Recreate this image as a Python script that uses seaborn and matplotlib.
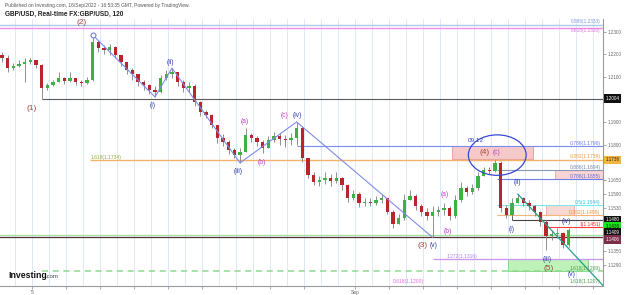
import numpy as np
import pandas as pd
import matplotlib
matplotlib.use("Agg")
import matplotlib.pyplot as plt
import matplotlib.transforms as mtransforms
from matplotlib.patches import Rectangle, Ellipse
from matplotlib.ticker import FixedLocator, NullLocator, FixedFormatter
import seaborn as sns

# ---------------- data (GBP/USD, 8h bars) ----------------
first_open = 1.2198
close = [1.2184, 1.2139, 1.2148, 1.2157, 1.2166, 1.2175, 1.2153, 1.2051, 1.2064, 1.2077,
         1.2095, 1.2082, 1.2095, 1.2077, 1.2073, 1.2086, 1.2256, 1.2229, 1.2220, 1.2234,
         1.2198, 1.2166, 1.2130, 1.2113, 1.2077, 1.2064, 1.2042, 1.2033, 1.2095, 1.2113,
         1.2122, 1.2077, 1.2051, 1.2060, 1.1989, 1.1945, 1.1931, 1.1888, 1.1831, 1.1814,
         1.1779, 1.1757, 1.1770, 1.1844, 1.1831, 1.1814, 1.1788, 1.1822, 1.1840, 1.1827,
         1.1822, 1.1831, 1.1874, 1.1744, 1.1671, 1.1641, 1.1650, 1.1658, 1.1645, 1.1658,
         1.1628, 1.1573, 1.1590, 1.1552, 1.1556, 1.1552, 1.1564, 1.1573, 1.1513, 1.1462,
         1.1488, 1.1564, 1.1581, 1.1539, 1.1513, 1.1496, 1.1513, 1.1522, 1.1530, 1.1496,
         1.1564, 1.1615, 1.1598, 1.1615, 1.1667, 1.1693, 1.1688, 1.1723, 1.1530, 1.1500,
         1.1552, 1.1573, 1.1552, 1.1539, 1.1513, 1.1471, 1.1412, 1.1420, 1.1425, 1.1374,
         1.1436]
high = [1.2211, 1.2198, 1.2162, 1.2175, 1.2184, 1.2184, 1.2175, 1.2157, 1.2073, 1.2086,
        1.2122, 1.2099, 1.2122, 1.2095, 1.2086, 1.2099, 1.2288, 1.2265, 1.2243, 1.2247,
        1.2238, 1.2198, 1.2166, 1.2139, 1.2113, 1.2086, 1.2068, 1.2060, 1.2108, 1.2130,
        1.2139, 1.2122, 1.2086, 1.2077, 1.2068, 1.1992, 1.1953, 1.1936, 1.1888, 1.1849,
        1.1822, 1.1788, 1.1788, 1.1874, 1.1853, 1.1840, 1.1822, 1.1840, 1.1857, 1.1853,
        1.1844, 1.1853, 1.1901, 1.1883, 1.1744, 1.1684, 1.1667, 1.1684, 1.1675, 1.1684,
        1.1663, 1.1632, 1.1607, 1.1598, 1.1573, 1.1573, 1.1581, 1.1590, 1.1573, 1.1522,
        1.1505, 1.1590, 1.1607, 1.1590, 1.1547, 1.1530, 1.1539, 1.1539, 1.1552, 1.1539,
        1.1586, 1.1641, 1.1624, 1.1632, 1.1684, 1.1705, 1.1705, 1.1736, 1.1731, 1.1543,
        1.1573, 1.1590, 1.1577, 1.1564, 1.1543, 1.1517, 1.1479, 1.1437, 1.1446, 1.1429,
        1.1446]
low = [1.2166, 1.2122, 1.2130, 1.2144, 1.2077, 1.2157, 1.2139, 1.2004, 1.2042, 1.2060,
       1.2077, 1.2068, 1.2077, 1.2064, 1.2060, 1.2068, 1.2082, 1.2211, 1.2202, 1.2198,
       1.2184, 1.2148, 1.2113, 1.2086, 1.2060, 1.2042, 1.2024, 1.2011, 1.2028, 1.2086,
       1.2095, 1.2060, 1.2033, 1.2033, 1.1971, 1.1927, 1.1918, 1.1874, 1.1809, 1.1796,
       1.1762, 1.1744, 1.1723, 1.1770, 1.1814, 1.1796, 1.1766, 1.1788, 1.1814, 1.1801,
       1.1792, 1.1801, 1.1801, 1.1727, 1.1658, 1.1628, 1.1624, 1.1632, 1.1624, 1.1637,
       1.1607, 1.1556, 1.1564, 1.1535, 1.1539, 1.1539, 1.1543, 1.1552, 1.1505, 1.1446,
       1.1462, 1.1479, 1.1564, 1.1522, 1.1496, 1.1479, 1.1406, 1.1496, 1.1500, 1.1479,
       1.1488, 1.1556, 1.1581, 1.1590, 1.1607, 1.1667, 1.1675, 1.1684, 1.1513, 1.1488,
       1.1492, 1.1552, 1.1539, 1.1522, 1.1496, 1.1454, 1.1353, 1.1395, 1.1404, 1.1362,
       1.1366]

# Elliott wave pivots (bar index, price)
wave_idx = [16, 27, 30, 42, 52, 76]
wave_price = [1.2288, 1.2011, 1.2139, 1.1723, 1.1901, 1.1406]
trend_idx = [91, 106.1]
trend_price = [1.1590, 1.1205]

ytick_vals = [1.2300, 1.2200, 1.2100, 1.1900, 1.1800, 1.1650, 1.1590, 1.1530, 1.1350, 1.1290]
ytick_labels = ["1.2300", "1.2200", "1.2100", "1.1900", "1.1800", "1.1650", "1.1590",
                "1.1530", "1.1350", "1.1290"]

# ---------------- figure ----------------
sns.set_theme(style="white")
plt.rcParams['font.family'] = ['Liberation Sans', 'DejaVu Sans']

W, H = 625, 295
fig = plt.figure(figsize=(W / 100, H / 100), dpi=100)
fig.patch.set_facecolor('white')
ax = fig.add_axes([0, 1 - 286 / H, 603 / W, (286 - 19) / H])
ax.set_facecolor('white')
ax.set_yscale('log')
XMAX = 106.06

# day grid
for k in range(0, 36):
    ax.axvline(2.382 + 3 * k, color='#dfe9f5', lw=0.7, zorder=0)

# zones
def rect(x0, x1, p0, p1, fc, ec, alpha=1.0):
    ax.add_patch(Rectangle((x0, p0), x1 - x0, p1 - p0, fc=fc, ec=ec, lw=0.6,
                           alpha=alpha, zorder=1))

rect(79.4, 93.7, 1.1739, 1.1796, '#f6c9c9', '#e49a9a')
rect(97.6, XMAX, 1.1655, 1.1694, '#f8d3d3', '#e8a8a8')
rect(96.0, 101.0, 1.1499, 1.1544, '#fad8d2', '#e8a8a0')
rect(89.3, 103.4, 1.1266, 1.1316, '#bff2b8', '#7fd67f')

def hline(p, x0, color, lw=0.8, ls='-', x1=XMAX, z=2):
    ax.hlines(p, x0, x1, colors=color, lw=lw, linestyles=ls, zorder=z)

hline(1.2333, -1, '#a9cbe6', lw=1.0)
hline(1.2320, -1, '#f08de8', lw=1.0)
hline(1.2004, 7, '#5a5a5a', lw=0.8)
hline(1.1796, 52, '#7b8cf0', lw=0.8)
hline(1.1736, 15.5, '#f6b26b', lw=1.0)
hline(1.1694, 87.4, '#8896b8', lw=0.8)
hline(1.1655, 87.4, '#6c7ee6', lw=0.8)
hline(1.1544, 87.4, '#80e4ec', lw=0.8)
hline(1.1499, 87.4, '#f6b27a', lw=0.8)
hline(1.1480, 90, '#444444', lw=0.8)
ax.vlines(90, 1.1480, 1.1499, colors='#444444', lw=0.6, zorder=2)
hline(1.1451, 96.2, '#ff3b3b', lw=0.8)
hline(1.1415, -1, '#a4e3a0', lw=0.9)
hline(1.1406, -1, '#5a3038', lw=0.9)
hline(1.1316, 76, '#c994ee', lw=0.9)
ax.hlines(1.1266, 7, XMAX, colors='#8fd88f', lw=1.1, linestyles=(0, (4, 3)), zorder=2)

# ---------------- candles ----------------
x = np.arange(len(close))
closes = np.array(close)
opens = np.array([first_open] + close[:-1])
up = closes >= opens
ax.vlines(x, low, high, colors='#7d7d7d', lw=0.6, zorder=3)
body_lo = np.minimum(opens, closes)
body_h = np.maximum(np.abs(closes - opens), 0.00012)
ax.bar(x[up], body_h[up], bottom=body_lo[up], width=0.55, color='#3fb044', lw=0, zorder=4)
ax.bar(x[~up], body_h[~up], bottom=body_lo[~up], width=0.55, color='#b8252b', lw=0, zorder=4)

# ---------------- wave structure ----------------
wave_df = pd.DataFrame({'idx': wave_idx, 'price': wave_price})
sns.lineplot(data=wave_df, x='idx', y='price', sort=False, color='#7f8ce8', lw=0.8,
             ax=ax, zorder=5, legend=False)
trend_df = pd.DataFrame({'idx': trend_idx, 'price': trend_price})
sns.lineplot(data=trend_df, x='idx', y='price', sort=False, color='#2a9d8f', lw=0.9,
             ax=ax, zorder=5, legend=False)
ax.plot([wave_idx[0]], [wave_price[0]], 'o', mfc='white', mec='#6f7fe0', ms=3.5,
        mew=0.8, zorder=6)
ax.add_patch(Ellipse((87.4, 1.1757), 10.2, 0.0175, fill=False, ec='#3a46d8', lw=0.9,
                     zorder=6))

brown, blue, mag = '#a5463e', '#2b3aa8', '#c03cc8'
labels = [
    ("(1)", 5.3, 1.1962, brown, 6), ("(2)", 14.1, 1.2346, brown, 6),
    ("(3)", 74.3, 1.1374, brown, 6), ("(4)", 85.1, 1.1770, brown, 6),
    ("(5)", 96.5, 1.1278, brown, 6),
    ("(i)", 26.6, 1.1971, blue, 4.8), ("(ii)", 29.8, 1.2166, blue, 4.8),
    ("(iii)", 41.6, 1.1684, blue, 4.8), ("(iv)", 52.1, 1.1931, blue, 4.8),
    ("(v)", 76.2, 1.1374, blue, 4.8), ("(i)", 90.0, 1.1441, blue, 4.8),
    ("(ii)", 90.9, 1.1637, blue, 4.8), ("(iii)", 96.2, 1.1312, blue, 4.8),
    ("(iv)", 99.5, 1.1471, blue, 4.8), ("(v)", 100.6, 1.1252, blue, 4.8),
    ("(a)", 42.9, 1.1901, mag, 4.8), ("(b)", 45.9, 1.1723, mag, 4.8),
    ("(c)", 49.9, 1.1931, mag, 4.8), ("(a)", 78.2, 1.1586, mag, 4.8),
    ("(b)", 78.7, 1.1429, mag, 4.8), ("(c)", 87.2, 1.1770, mag, 4.8),
    ("09.12", 83.6, 1.1822, '#3340d0', 4.6),
]
for t, xi, p, c, s in labels:
    ax.text(xi, p, t, color=c, fontsize=s, ha='center', va='center', zorder=7)

# fib labels
fib_right = [
    ("0.786(1.1796)", 1.1796, '#6c7ee6'), ("0.382(1.1739)", 1.1739, '#e89a3a'),
    ("0.886(1.1694)", 1.1694, '#7484a8'), ("0.786(1.1655)", 1.1655, '#5c6ee0'),
    ("0.5(1.1544)", 1.1544, '#35c0d6'), ("0.382(1.1499)", 1.1499, '#e8903a'),
    ("1(1.1451)", 1.1451, '#f03030'), ("1.618(1.1269)", 1.1266, '#4fa04f'),
]
for t, p, c in fib_right:
    ax.text(105.6, p, t, color=c, fontsize=3.6, ha='right', va='bottom', zorder=7)
ax.text(105.6, 1.2336, "0.886(1.2333)", color='#7d9fd8', fontsize=3.4, ha='right',
        va='bottom', zorder=7)
ax.text(105.6, 1.2318, "0.618(1.2320)", color='#e070e0', fontsize=3.4, ha='right',
        va='top', zorder=7)
ax.text(105.6, 1.1222, "1.618(1.1207)", color='#4fa04f', fontsize=3.6, ha='right',
        va='center', zorder=7)
ax.text(15.6, 1.1736, "1.618(1.1734)", color='#8fae3a', fontsize=3.6, ha='left',
        va='bottom', zorder=7)
ax.text(78.5, 1.1316, "1.272(1.1316)", color='#b57ee6', fontsize=3.6, ha='left',
        va='bottom', zorder=7)
ax.text(69.0, 1.1222, "0.618(1.1200)", color='#e070e0', fontsize=3.6, ha='left',
        va='center', zorder=7)

# price boxes on the axis
trans = mtransforms.blended_transform_factory(ax.transAxes, ax.transData)
boxes = [("1.2004", 1.2004, '#111111', 'white', 0), ("1.1736", 1.1736, '#f2b441', '#222222', 0),
         ("1.1480", 1.1480, '#111111', 'white', 0), ("1.1436", 1.1436, '#19e619', '#111111', 2.7),
         ("1.1409", 1.1409, '#111111', 'white', 3.0), ("1.1406", 1.1406, '#7b2d4a', 'white', -1.5)]
for t, p, fc, tc, dy in boxes:
    ax.annotate(t, xy=(1.0, p), xycoords=trans, xytext=(1.6, dy), textcoords='offset points',
                ha='left', va='center', fontsize=3.3, color=tc, annotation_clip=False,
                bbox=dict(boxstyle='square,pad=0.35', fc=fc, ec='none'), zorder=8)

# ---------------- axes ----------------
ax.set_xlim(-0.35, XMAX)
ax.set_ylim(1.12041, 1.23602)
ax.set_xlabel('')
ax.set_ylabel('')
ax.yaxis.tick_right()
ax.yaxis.set_major_locator(FixedLocator(ytick_vals))
ax.yaxis.set_major_formatter(FixedFormatter(ytick_labels))
ax.yaxis.set_minor_locator(NullLocator())
ax.tick_params(axis='y', which='both', length=2, width=0.5, colors='#888888',
               labelsize=3.3, pad=1.5, labelcolor='#666666', right=True, left=False)
xt_days = list(range(1, 18, 2)) + list(range(20, 35, 2))
xt = [2.382 + 3 * d for d in xt_days]
xl = ['5' if d == 1 else ('Sep' if d == 20 else '') for d in xt_days]
ax.xaxis.set_major_locator(FixedLocator(xt))
ax.xaxis.set_major_formatter(FixedFormatter(xl))
ax.xaxis.set_minor_locator(NullLocator())
ax.tick_params(axis='x', length=2, width=0.5, colors='#888888', labelsize=3.6, pad=1,
               labelcolor='#666666', bottom=True)
for s in ['top', 'left']:
    ax.spines[s].set_visible(False)
for s in ['right', 'bottom']:
    ax.spines[s].set_color('#9a9a9a')
    ax.spines[s].set_linewidth(0.8)
ax.grid(False)

# header and logo
fig.text(5 / W, 1 - 5.5 / H,
         "Published on Investing.com, 16/Sep/2022 - 16:53:35 GMT, Powered by TradingView.",
         fontsize=3.5, color='#555555', va='center', ha='left')
fig.text(5 / W, 1 - 14.5 / H, "GBP/USD, Real-time FX:GBP/USD, 120", fontsize=4.7,
         fontweight='bold', color='#222222', va='center', ha='left')
fig.text(8 / W, 1 - 275 / H, "Investing", fontsize=6.3, fontweight='bold', color='#111111',
         va='center', ha='left')
fig.text(45.5 / W, 1 - 276 / H, ".com", fontsize=4.3, color='#444444', va='center', ha='left')

fig.savefig("out.png", dpi=100, facecolor='white')
